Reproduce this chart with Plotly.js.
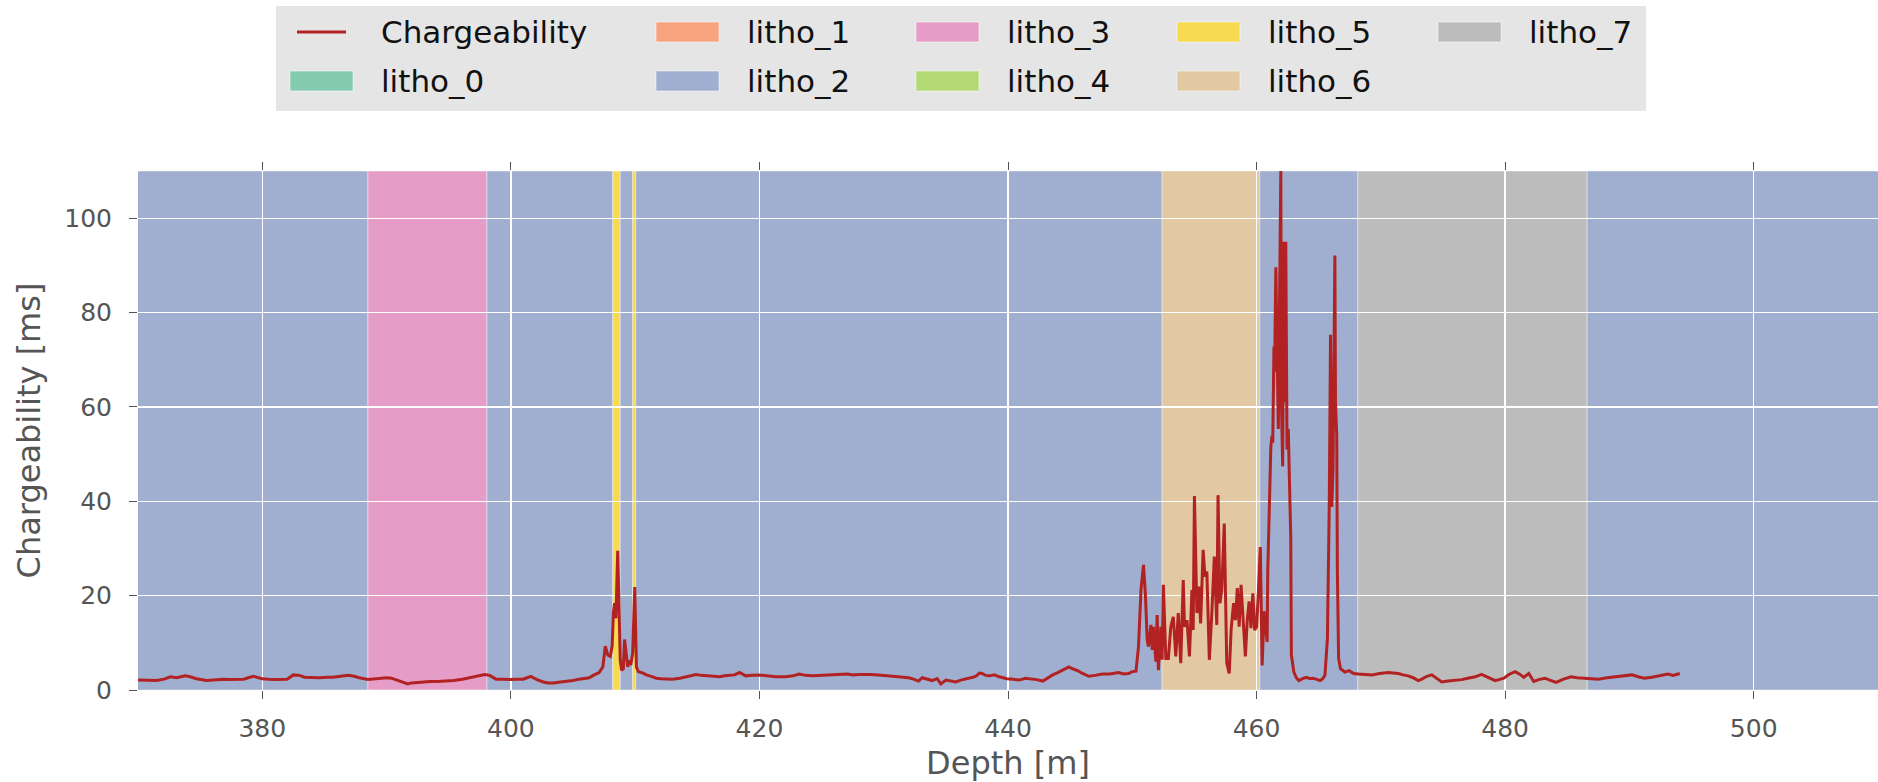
<!DOCTYPE html>
<html>
<head>
<meta charset="utf-8">
<script src="https://cdn.plot.ly/plotly-3.0.1.min.js"></script>
<style>
  html, body { margin: 0; padding: 0; background: #ffffff; }
  #chart { width: 1878px; height: 782px; }
</style>
</head>
<body>
<div id="chart"></div>
<script>
// ---- Data ----
const depth = [
  369.9, 370.6, 371.5, 372.1, 372.6, 373.1, 373.4, 373.8, 374.2, 374.7,
  375.5, 376.3, 376.9, 377.4, 378.0, 378.5, 379.0, 379.3, 379.7, 380.0,
  380.9, 381.5, 382.0, 382.5, 383.0, 383.4, 384.0, 384.6, 385.2, 385.7,
  386.3, 386.9, 387.4, 387.8, 388.5, 389.2, 389.6, 390.0, 390.4, 390.8,
  391.3, 391.7, 392.0, 392.4, 392.9, 393.5, 394.1, 394.8, 395.4, 396.1,
  396.6, 397.2, 397.6, 397.9, 398.3, 398.8, 399.3, 399.9, 400.5, 401.0,
  401.3, 401.6, 402.1, 402.6, 403.0, 403.4, 404.0, 404.5, 405.0, 405.5,
  406.0, 406.3, 406.7, 407.1, 407.4, 407.6, 407.8, 408.0, 408.15, 408.25,
  408.35, 408.45, 408.6, 408.7, 408.8, 408.9, 409.05, 409.15, 409.3, 409.4,
  409.5, 409.65, 409.8, 409.97, 410.1, 410.25, 410.6, 410.9, 411.3, 411.7,
  412.1, 412.5, 413.0, 413.6, 414.2, 414.9, 415.3, 415.7, 416.2, 416.8,
  417.2, 417.6, 418.0, 418.4, 418.9, 419.4, 420.0, 420.6, 421.3, 422.1,
  422.7, 423.2, 423.7, 424.3, 425.0, 425.6, 426.3, 427.1, 427.5, 428.0,
  429.0, 429.9, 430.3, 430.7, 431.4, 432.0, 432.4, 432.8, 433.1, 433.4,
  433.7, 433.9, 434.3, 434.6, 435.0, 435.4, 435.8, 436.2, 436.6, 437.0,
  437.4, 437.7, 437.9, 438.2, 438.5, 438.9, 439.3, 439.6, 439.9, 440.4,
  440.9, 441.4, 441.9, 442.3, 442.8, 443.2, 443.6, 444.0, 444.4, 444.7,
  444.9, 445.2, 445.6, 446.0, 446.5, 447.0, 447.6, 448.2, 448.9, 449.3,
  449.7, 450.0, 450.3, 450.5, 450.7, 450.9, 451.05, 451.2, 451.3, 451.5,
  451.6, 451.7, 451.9, 452.0, 452.1, 452.3, 452.4, 452.5, 452.7, 452.9,
  453.1, 453.3, 453.5, 453.7, 453.9, 454.1, 454.2, 454.4, 454.6, 454.8,
  454.9, 455.0, 455.2, 455.35, 455.5, 455.7, 455.85, 456.0, 456.2, 456.4,
  456.6, 456.8, 456.9, 457.05, 457.2, 457.4, 457.6, 457.8, 457.95, 458.15,
  458.3, 458.45, 458.6, 458.75, 458.9, 459.1, 459.25, 459.4, 459.55, 459.7,
  459.85, 460.0, 460.15, 460.3, 460.45, 460.6, 460.7, 460.85, 460.9, 461.05,
  461.15, 461.25, 461.3, 461.4, 461.45, 461.55, 461.65, 461.75, 461.85, 461.95,
  462.0, 462.1, 462.2, 462.3, 462.35, 462.45, 462.55, 462.6, 462.75, 462.8,
  463.0, 463.2, 463.4, 463.7, 464.0, 464.3, 464.5, 464.8, 465.1, 465.3,
  465.5, 465.7, 465.85, 465.95, 466.05, 466.15, 466.3, 466.35, 466.45, 466.5,
  466.6, 466.75, 467.1, 467.45, 467.8, 468.2, 468.7, 469.3, 469.9, 470.6,
  471.0, 471.4, 471.8, 472.2, 472.6, 473.0, 473.3, 473.7, 474.1, 474.5,
  474.9, 475.4, 476.0, 476.5, 477.0, 477.6, 478.1, 478.6, 479.2, 479.5,
  479.9, 480.3, 480.8, 481.2, 481.5, 481.9, 482.3, 482.7, 483.2, 483.7,
  484.1, 484.7, 485.3, 485.8, 486.4, 487.0, 487.5, 488.2, 488.8, 489.5,
  490.2, 490.7, 491.2, 491.8, 492.3, 492.7, 493.1, 493.5, 494.05
];
const chargeability = [
  2.1, 2.0, 2.0, 2.3, 2.8, 2.6, 2.8, 3.0, 2.8, 2.4,
  2.0, 2.2, 2.3, 2.2, 2.2, 2.3, 2.7, 2.9, 2.6, 2.4,
  2.2, 2.2, 2.3, 3.2, 3.1, 2.7, 2.6, 2.6, 2.7, 2.7,
  2.9, 3.1, 2.9, 2.6, 2.25, 2.4, 2.4, 2.6, 2.5, 2.1,
  1.6, 1.3, 1.5, 1.6, 1.7, 1.8, 1.8, 1.9, 2.0, 2.3,
  2.6, 3.0, 3.2, 3.3, 3.1, 2.3, 2.3, 2.2, 2.3, 2.3,
  2.6, 2.9, 2.2, 1.7, 1.5, 1.5, 1.7, 1.8, 2.0, 2.3,
  2.5, 2.6, 3.2, 3.7, 4.9, 9.3, 7.4, 7.1, 9.3, 16.3,
  18.4, 15.2, 29.5, 14.8, 6.4, 4.2, 4.5, 10.7, 7.1, 4.9,
  6.3, 5.3, 7.8, 21.8, 4.9, 3.9, 3.6, 3.2, 2.9, 2.5,
  2.4, 2.3, 2.3, 2.5, 2.8, 3.3, 3.1, 3.0, 2.9, 2.8,
  3.0, 3.1, 3.2, 3.7, 3.0, 3.1, 3.2, 3.0, 2.8, 2.8,
  3.0, 3.4, 3.1, 3.0, 3.1, 3.2, 3.2, 3.4, 3.2, 3.3,
  3.3, 3.2, 3.0, 2.9, 2.7, 2.6, 2.3, 1.9, 2.6, 2.4,
  2.1, 2.0, 2.4, 1.3, 2.1, 1.9, 1.7, 2.1, 2.3, 2.6,
  2.9, 3.6, 3.5, 3.1, 3.0, 3.2, 2.8, 2.6, 2.4, 2.3,
  2.1, 2.5, 2.4, 2.2, 1.9, 2.6, 3.2, 3.7, 4.2, 4.6,
  4.9, 4.5, 4.1, 3.5, 2.9, 3.1, 3.4, 3.4, 3.7, 3.4,
  3.5, 3.9, 4.0, 9.2, 21.2, 26.5, 20.5, 10.6, 9.2, 13.8,
  8.5, 13.4, 6.0, 15.9, 4.2, 13.4, 6.4, 22.3, 6.7, 6.7,
  13.4, 15.5, 7.1, 16.3, 5.7, 23.3, 13.4, 14.8, 7.1, 21.2,
  12.7, 41.1, 16.3, 21.9, 14.1, 29.7, 24.0, 25.1, 6.4, 16.3,
  28.3, 13.8, 41.3, 18.4, 21.2, 35.3, 5.7, 3.5, 12.7, 18.4,
  14.8, 21.6, 13.4, 22.3, 14.8, 7.1, 14.8, 18.8, 13.1, 20.5,
  12.7, 13.4, 21.0, 30.3, 5.2, 16.7, 13.8, 10.2, 25.3, 39.6,
  51.7, 53.9, 52.4, 72.8, 67.5, 89.6, 68.2, 55.3, 82.5, 110,
  61, 47.4, 95, 61, 95, 51, 55.3, 49.6, 32.4, 7.4,
  3.8, 2.6, 2.0, 2.4, 2.7, 2.4, 2.5, 2.3, 2.0, 2.3,
  3.1, 10.9, 39.6, 75.3, 38.8, 46.7, 92.1, 61, 53.9, 25.3,
  6.7, 4.5, 3.8, 4.1, 3.5, 3.4, 3.3, 3.2, 3.5, 3.7,
  3.6, 3.5, 3.2, 3.0, 2.6, 2.0, 2.3, 2.9, 3.2, 2.4,
  1.7, 1.9, 2.0, 2.2, 2.5, 2.8, 3.3, 2.7, 2.0, 2.2,
  2.5, 3.3, 3.9, 3.3, 2.7, 3.5, 1.8, 2.2, 2.5, 2.0,
  1.6, 2.3, 2.8, 2.6, 2.5, 2.4, 2.3, 2.6, 2.8, 2.9,
  3.2, 2.8, 2.5, 2.7, 3.0, 3.1, 3.4, 3.1, 3.5
];

// Lithology intervals (depth top / bottom, litho index)
const intervalTop    = [360, 388.5, 398.07, 408.2, 408.8, 409.8, 410.05, 452.4, 460.25, 468.15, 486.6];
const intervalBottom = [388.5, 398.07, 408.2, 408.8, 409.8, 410.05, 452.4, 460.25, 468.15, 486.6, 520];
const intervalLitho  = [2, 3, 2, 5, 2, 5, 2, 6, 2, 7, 2];

const lithoNames  = ['litho_0', 'litho_1', 'litho_2', 'litho_3', 'litho_4', 'litho_5', 'litho_6', 'litho_7'];
const lithoColors = ['#84cbb0', '#f7a47f', '#a0aecf', '#e59dc8', '#b3d975', '#f7da50', '#e2c9a4', '#bcbcbc'];

const lineName = 'Chargeability';
const lineColor = '#b22222';

const xTickVals = [380, 400, 420, 440, 460, 480, 500];
const yTickVals = [0, 20, 40, 60, 80, 100];

// ---- Geometry helpers (pixels -> paper) ----
const W = 1878, H = 782;
const M = { l: 138, r: 0, t: 171, b: 92 };
const plotW = W - M.l - M.r, plotH = H - M.t - M.b;
const px = x => (x - M.l) / plotW;
const py = y => (H - M.b - y) / plotH;

const FONT = 'DejaVu Sans, Liberation Sans, sans-serif';

// ---- Lithology spans ----
const shapes = intervalTop.map((t, i) => ({
  type: 'rect', xref: 'x', yref: 'paper',
  x0: t, x1: intervalBottom[i], y0: 0, y1: 1,
  fillcolor: lithoColors[intervalLitho[i]],
  line: { color: 'rgba(255,255,255,0.45)', width: 1 },
  layer: 'below'
}));

// ---- Legend (matplotlib style, 2 rows, column-major) ----
const annotations = [];
shapes.push({
  type: 'rect', xref: 'paper', yref: 'paper',
  x0: px(276), x1: px(1646), y0: py(111), y1: py(6),
  fillcolor: '#e5e5e5', line: { width: 0 }, layer: 'above'
});
const legendItems = [{ name: lineName, kind: 'line', color: lineColor }]
  .concat(lithoNames.map((n, i) => ({ name: n, kind: 'patch', color: lithoColors[i] })));
const colPatchLeft = [290, 656, 916, 1177, 1438];
const rowCenter = [32, 81];
legendItems.forEach((it, k) => {
  const col = Math.floor(k / 2), row = k % 2;
  const x0 = colPatchLeft[col], yc = rowCenter[row];
  if (it.kind === 'line') {
    shapes.push({ type: 'line', xref: 'paper', yref: 'paper',
      x0: px(x0 + 7), x1: px(x0 + 56), y0: py(yc), y1: py(yc),
      line: { color: it.color, width: 3 }, layer: 'above' });
  } else {
    shapes.push({ type: 'rect', xref: 'paper', yref: 'paper',
      x0: px(x0), x1: px(x0 + 63), y0: py(yc + 10), y1: py(yc - 10),
      fillcolor: it.color, line: { color: 'rgba(255,255,255,0.5)', width: 1 }, layer: 'above' });
  }
  annotations.push({ xref: 'paper', yref: 'paper', x: px(x0 + 89), y: py(yc),
    xanchor: 'left', yanchor: 'middle', showarrow: false, text: it.name,
    font: { family: FONT, size: 31, color: '#111111' } });
});

const traces = [{
  type: 'scatter', mode: 'lines', x: depth, y: chargeability, name: lineName,
  line: { color: lineColor, width: 3 }, showlegend: false, hoverinfo: 'x+y'
}];

const layout = {
  width: W, height: H, margin: M,
  paper_bgcolor: '#ffffff', plot_bgcolor: '#a0aecf',
  showlegend: false,
  font: { family: FONT, color: '#555555' },
  xaxis: {
    range: [370, 510], tickvals: xTickVals, ticktext: xTickVals.map(String),
    showgrid: true, gridcolor: '#ffffff', gridwidth: 1.3, zeroline: false,
    ticks: 'outside', ticklen: 8, tickwidth: 1, tickcolor: '#555555',
    mirror: 'ticks', showline: false, ticklabelstandoff: 8,
    tickfont: { family: FONT, size: 25, color: '#555555' },
    title: { text: 'Depth [m]', font: { family: FONT, size: 32, color: '#555555' }, standoff: 10 }
  },
  yaxis: {
    range: [0, 110], tickvals: yTickVals, ticktext: yTickVals.map(String),
    showgrid: true, gridcolor: '#ffffff', gridwidth: 1.3, zeroline: false,
    ticks: 'outside', ticklen: 8, tickwidth: 1, tickcolor: '#555555',
    showline: false, ticklabelstandoff: 12,
    tickfont: { family: FONT, size: 25, color: '#555555' },
    title: { text: 'Chargeability [ms]', font: { family: FONT, size: 32, color: '#555555' }, standoff: 14 }
  },
  shapes: shapes,
  annotations: annotations
};

Plotly.newPlot('chart', traces, layout, { staticPlot: true, displayModeBar: false });
</script>
</body>
</html>
